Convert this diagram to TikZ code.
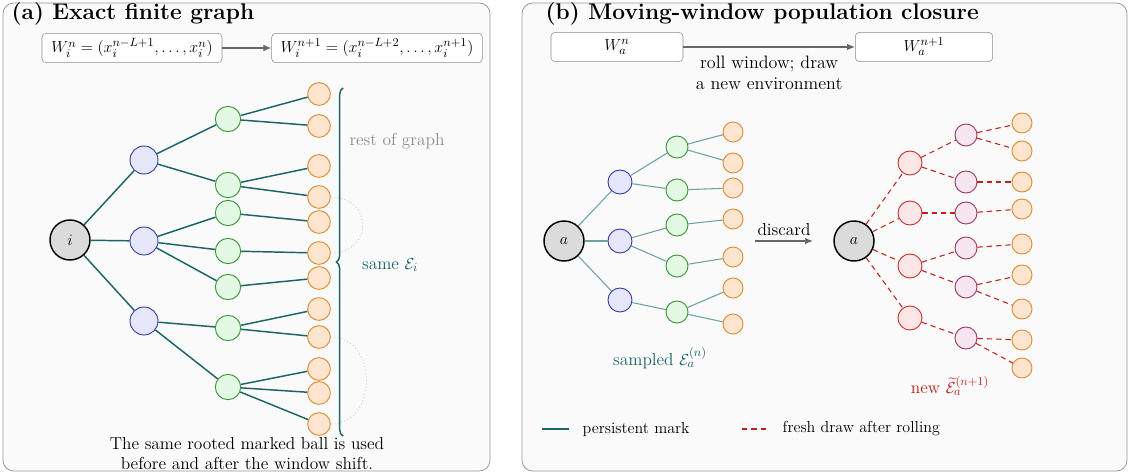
\documentclass[tikz,border=0pt]{standalone}
\usepackage{amsmath}
\usetikzlibrary{arrows.meta,decorations.pathreplacing}

\definecolor{edgeteal}{HTML}{1B6565}
\definecolor{softteal}{HTML}{6DA3A3}
\definecolor{bluefill}{HTML}{E6E6FA}
\definecolor{bluedraw}{HTML}{3A3AB0}
\definecolor{greenfill}{HTML}{E3F9E3}
\definecolor{greendraw}{HTML}{3A963A}
\definecolor{orangefill}{HTML}{FDE5D0}
\definecolor{orangedraw}{HTML}{E08C30}
\definecolor{redfill}{HTML}{FDE6E6}
\definecolor{reddraw}{HTML}{CC3030}
\definecolor{plumfill}{HTML}{F7E6EF}
\definecolor{plumdraw}{HTML}{9C3A60}
\definecolor{freshred}{HTML}{C81E1E}

\tikzset{
  panel/.style={draw=black!40, fill=black!2, rounded corners=8pt, line width=0.6pt},
  winbox/.style={draw=black!45, fill=white, rounded corners=3pt, minimum height=22pt, inner sep=2pt},
  rootnode/.style={circle, draw=black, fill=black!14, line width=1.1pt, minimum size=30pt, inner sep=0pt},
  lvlone/.style={circle, draw=bluedraw, fill=bluefill, line width=0.7pt, minimum size=#1, inner sep=0pt},
  lvltwo/.style={circle, draw=greendraw, fill=greenfill, line width=0.7pt, minimum size=#1, inner sep=0pt},
  leaf/.style={circle, draw=orangedraw, fill=orangefill, line width=0.7pt, minimum size=#1, inner sep=0pt},
  newone/.style={circle, draw=reddraw, fill=redfill, line width=0.7pt, minimum size=18pt, inner sep=0pt},
  newtwo/.style={circle, draw=plumdraw, fill=plumfill, line width=0.7pt, minimum size=16.5pt, inner sep=0pt},
  markedge/.style={draw=edgeteal, line width=1.1pt},
  sampledge/.style={draw=softteal, line width=0.8pt},
  freshedge/.style={draw=freshred, line width=0.8pt, dash pattern=on 4pt off 3pt},
  grayarrow/.style={draw=black!60, line width=1pt, -{Latex[length=6pt,width=5pt]}},
  heading/.style={anchor=base west, font=\fontsize{17}{19}\selectfont\bfseries},
}

\begin{document}
\begin{tikzpicture}[x=0.75pt,y=-0.75pt,font=\fontsize{13}{15}\selectfont]
\useasboundingbox (0,0) rectangle (1130,474);

% the two panels
\draw[panel] (3,3) rectangle (490,471);
\draw[panel] (522,3) rectangle (1127,471);
\node[heading] (titlea) at (7,20) {(a) Exact finite graph};
\node[heading] (titleb) at (541,20) {(b) Moving-window population closure};

%%% (a) exact finite graph
\node[winbox,minimum width=135pt,font=\fontsize{12.5}{14}\selectfont] (wa) at (132,48) {$W_i^{n}=(x_i^{n-L+1},\dots,x_i^{n})$};
\node[winbox,minimum width=158pt,font=\fontsize{12.5}{14}\selectfont] (wb) at (377,48) {$W_i^{n+1}=(x_i^{n-L+2},\dots,x_i^{n+1})$};
\draw[grayarrow] (wa) -- (wb);

\node[rootnode] (ai) at (70,240) {$i$};
\node[lvlone=21pt] (ab1) at (144,160) {};
\node[lvlone=21pt] (ab2) at (144,241) {};
\node[lvlone=21pt] (ab3) at (144,321) {};
\foreach \y [count=\k] in {119,185,213,251,287,328,387}
  \node[lvltwo=19pt] (ag\k) at (228,\y) {};
\foreach \y [count=\k] in {94,126,166,197,222,253,278,309,337,369,393,424}
  \node[leaf=17pt] (ao\k) at (319,\y) {};

\foreach \u/\v in {ai/ab1,ai/ab2,ai/ab3,ab1/ag1,ab1/ag2,ab2/ag3,ab2/ag4,ab2/ag5,ab3/ag6,ab3/ag7,
  ag1/ao1,ag1/ao2,ag2/ao3,ag2/ao4,ag3/ao5,ag4/ao6,ag5/ao7,ag6/ao8,ag6/ao9,ag7/ao10,ag7/ao11,ag7/ao12}
  \draw[markedge] (\u) -- (\v);

% loops back into the ball
\draw[black!25, dotted, line width=0.6pt] (ao4.east) to[out=0,in=0,looseness=1.95] (ao6.east);
\draw[black!25, dotted, line width=0.6pt] (ao9.east) to[out=0,in=0,looseness=1.4] (ao12.east);

\coordinate (bracebot) at (343,436);
\coordinate (bracetop) at (343,88);
\draw[markedge, decorate, decoration={brace,amplitude=5pt}] (bracebot) -- (bracetop);
\node[text=black!45] (rest) at (397,141) {rest of graph};
\node[text=edgeteal] (same) at (390,265) {same $\mathcal{E}_i$};

\node[align=center] (capa) at (247,454) {The same rooted marked ball is used\\before and after the window shift.};

%%% (b) moving window
\node[winbox,minimum width=99pt] (va) at (617,47) {$W_a^{n}$};
\node[winbox,minimum width=103pt] (vb) at (924,47) {$W_a^{n+1}$};
\draw[grayarrow] (va) -- node[below,align=center,yshift=-3pt,font=\fontsize{13.5}{15.5}\selectfont] (roll) {roll window; draw\\a new environment} (vb);

% sampled environment
\node[rootnode] (bi) at (564,241) {$a$};
\foreach \y [count=\k] in {182,241,300}
  \node[lvlone=18pt] (bb\k) at (620,\y) {};
\foreach \y [count=\k] in {147,190,225,266,312}
  \node[lvltwo=16.5pt] (bg\k) at (677,\y) {};
\foreach \y [count=\k] in {132,163,188,219,257,288,324}
  \node[leaf=15pt] (bo\k) at (733,\y) {};
\foreach \u/\v in {bi/bb1,bi/bb2,bi/bb3,bb1/bg1,bb1/bg2,bb2/bg3,bb2/bg4,bb3/bg5,
  bg1/bo1,bg1/bo2,bg2/bo3,bg3/bo4,bg4/bo5,bg5/bo6,bg5/bo7}
  \draw[sampledge] (\u) -- (\v);
\node[text=edgeteal] (sampled) at (660,358) {sampled $\mathcal{E}_a^{(n)}$};

\coordinate (dfrom) at (755,241);
\coordinate (dto) at (813,241);
\draw[grayarrow] (dfrom) -- node[above] (discard) {discard} (dto);

% fresh environment
\node[rootnode] (ci) at (854,241) {$a$};
\foreach \y [count=\k] in {163,213,266,318}
  \node[newone] (cr\k) at (910,\y) {};
\foreach \y [count=\k] in {135,182,213,248,287,338}
  \node[newtwo] (cp\k) at (966,\y) {};
\foreach \y [count=\k] in {123,151,182,209,244,275,309,340,368}
  \node[leaf=15pt] (co\k) at (1022,\y) {};
\foreach \u/\v in {ci/cr1,ci/cr2,ci/cr3,ci/cr4,cr1/cp1,cr1/cp2,cr2/cp3,cr3/cp4,cr3/cp5,cr4/cp6,
  cp1/co1,cp1/co2,cp2/co3,cp3/co4,cp4/co5,cp5/co6,cp5/co7,cp6/co8,cp6/co9}
  \draw[freshedge] (\u) -- (\v);
\node[text=freshred] (fresh) at (950,386) {new $\widetilde{\mathcal{E}}_a^{(n+1)}$};

% legend
\coordinate (la) at (542,429);
\coordinate (lb) at (569,429);
\draw[markedge] (la) -- (lb);
\node[anchor=west,font=\fontsize{12}{14}\selectfont] (lmark) at (578,429) {persistent mark};
\coordinate (lc) at (742,429);
\coordinate (ld) at (769,429);
\draw[freshedge] (lc) -- (ld);
\node[anchor=west,font=\fontsize{12}{14}\selectfont] (lfresh) at (778,429) {fresh draw after rolling};
\end{tikzpicture}
\end{document}
